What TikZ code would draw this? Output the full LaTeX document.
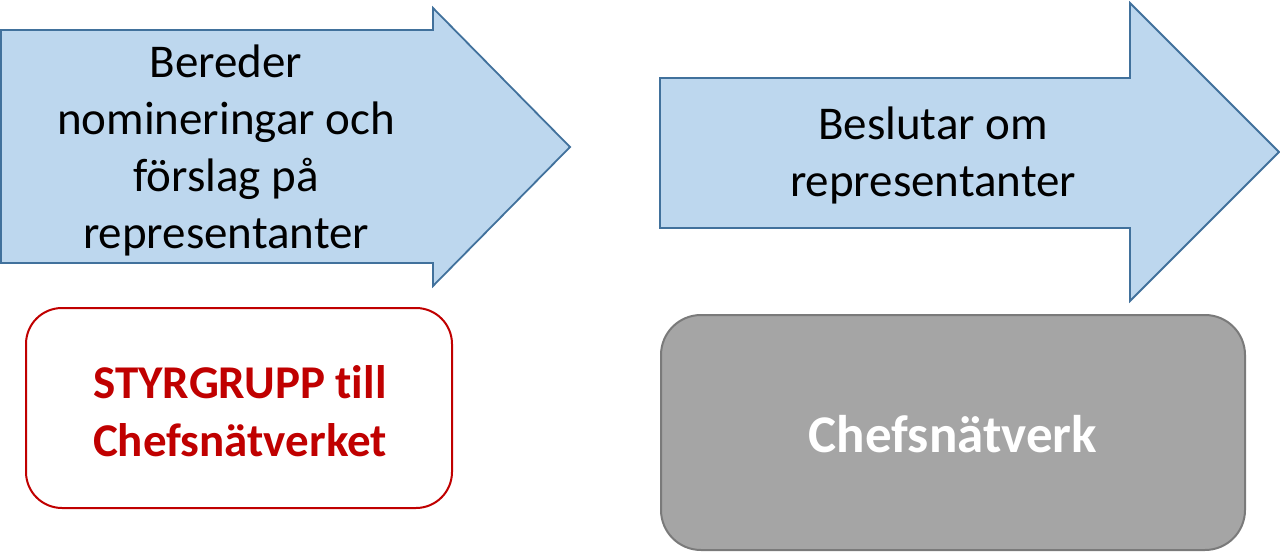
\documentclass[tikz,border=0pt]{standalone}
\usepackage{fontspec}
\setmainfont[Ligatures=CommonOff]{Carlito}
\usepackage{xcolor}
\definecolor{ArrowBlue}{HTML}{BDD7EE}
\definecolor{ArrowEdge}{HTML}{41719C}
\definecolor{GroupRed}{HTML}{C00000}
\definecolor{NetGrey}{HTML}{A5A5A5}
\definecolor{NetEdge}{HTML}{7A7A7A}
\begin{document}
\begin{tikzpicture}[
            x=1pt, y=-1pt,
            flow/.style={draw=ArrowEdge, line width=1.8pt, fill=ArrowBlue, line join=miter},
            flowtext/.style={align=center, font=\fontsize{47}{57}\selectfont, text=black},
            groupbox/.style={draw=GroupRed, line width=2pt, rounded corners=36pt, fill=white},
            netbox/.style={draw=NetEdge, line width=2pt, rounded corners=40pt, fill=NetGrey}
        ]
            \useasboundingbox (0,0) rectangle (1280,556);
            % arrows
            \draw[flow] (1,30) -- (433,30) -- (433,8) -- (570,147) -- (433,286) -- (433,263) -- (1,263) -- cycle;
            \draw[flow] (660,78) -- (1130,78) -- (1130,3) -- (1279,152) -- (1130,301) -- (1130,228) -- (660,228) -- cycle;
            \node[flowtext] (bereder) at (226,150) {Bereder\\nomineringar och\\förslag på\\representanter};
            \node[flowtext] (beslutar) at (933,155) {Beslutar om\\representanter};
            % boxes
            \draw[groupbox] (26,308) rectangle (452,508);
            \draw[netbox] (661,315) rectangle (1245,550);
            \node[align=center, text=GroupRed, font=\bfseries\fontsize{47}{58}\selectfont] (styrgrupp) at (240,411) {STYRGRUPP till\\Chefsnätverket};
            \node[text=white, font=\bfseries\fontsize{53}{60}\selectfont] (natverk) at (953,434) {Chefsnätverk};
        \end{tikzpicture}
\end{document}
